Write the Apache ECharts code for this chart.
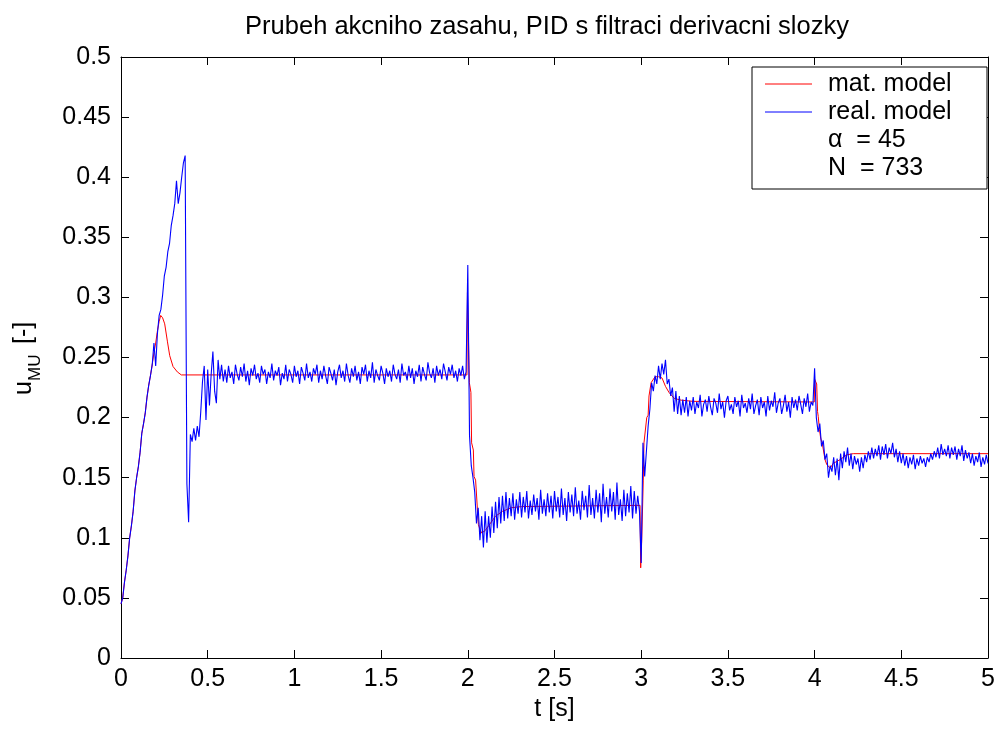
<!DOCTYPE html>
<html>
<head>
<meta charset="utf-8">
<script src="https://cdn.jsdelivr.net/npm/echarts@6/dist/echarts.min.js"></script>
<style>
html,body{margin:0;padding:0;background:#fff;}
#chart{width:1001px;height:729px;}
</style>
</head>
<body>
<div id="chart"></div>
<script>
// ---------------- DATA ----------------
const titleText = 'Prubeh akcniho zasahu, PID s filtraci derivacni slozky';
const xLabel = 't [s]';
const legendNames = ['mat. model', 'real. model'];
const legendExtra = ['\u03B1  = 45', 'N  = 733'];

// real. model sampled every 0.01 s from t = 0 to 5
const realStep = 0.01;
const realU = [
0.045,0.050,0.063,0.073,0.085,0.100,0.110,0.122,0.139,0.150,
0.159,0.171,0.187,0.195,0.204,0.217,0.227,0.235,0.244,0.262,
0.243,0.270,0.285,0.290,0.302,0.318,0.325,0.338,0.345,0.360,
0.368,0.378,0.397,0.378,0.387,0.400,0.412,0.418,0.145,0.113,
0.186,0.180,0.191,0.181,0.193,0.184,0.205,0.230,0.243,0.198,
0.240,0.210,0.236,0.255,0.222,0.212,0.248,0.232,0.244,0.230,
0.240,0.229,0.243,0.233,0.238,0.228,0.244,0.236,0.231,0.242,
0.234,0.245,0.230,0.239,0.227,0.241,0.235,0.244,0.232,0.237,
0.229,0.243,0.236,0.240,0.228,0.238,0.233,0.245,0.231,0.239,
0.235,0.242,0.227,0.237,0.232,0.244,0.230,0.240,0.236,0.229,
0.243,0.234,0.239,0.228,0.242,0.237,0.231,0.245,0.233,0.238,
0.230,0.241,0.236,0.244,0.229,0.239,0.232,0.243,0.235,0.228,
0.242,0.237,0.231,0.240,0.227,0.238,0.244,0.233,0.239,0.230,
0.245,0.235,0.229,0.241,0.234,0.243,0.231,0.238,0.228,0.242,
0.236,0.244,0.230,0.239,0.233,0.246,0.229,0.240,0.235,0.231,
0.243,0.237,0.228,0.241,0.234,0.239,0.230,0.244,0.236,0.232,
0.240,0.229,0.245,0.235,0.238,0.231,0.243,0.233,0.241,0.228,
0.239,0.234,0.244,0.230,0.242,0.236,0.231,0.246,0.237,0.233,
0.241,0.229,0.243,0.235,0.240,0.232,0.245,0.238,0.231,0.242,
0.236,0.244,0.233,0.239,0.230,0.241,0.235,0.243,0.232,0.238,
0.327,0.185,0.160,0.150,0.138,0.112,0.125,0.098,0.118,0.092,
0.122,0.096,0.118,0.100,0.126,0.104,0.130,0.108,0.134,0.112,
0.135,0.114,0.138,0.116,0.133,0.118,0.137,0.115,0.132,0.120,
0.138,0.117,0.134,0.121,0.139,0.116,0.131,0.119,0.136,0.122,
0.133,0.115,0.140,0.120,0.132,0.118,0.137,0.121,0.135,0.116,
0.139,0.122,0.134,0.117,0.141,0.119,0.133,0.114,0.138,0.121,
0.136,0.118,0.142,0.120,0.131,0.115,0.139,0.123,0.135,0.117,
0.144,0.119,0.133,0.116,0.140,0.121,0.137,0.113,0.145,0.120,
0.134,0.117,0.141,0.122,0.138,0.115,0.146,0.119,0.132,0.114,
0.140,0.118,0.137,0.121,0.143,0.116,0.139,0.120,0.135,0.122,
0.079,0.179,0.151,0.172,0.193,0.207,0.229,0.222,0.235,0.228,
0.243,0.232,0.245,0.236,0.248,0.228,0.232,0.218,0.225,0.205,
0.222,0.203,0.218,0.202,0.215,0.204,0.217,0.201,0.214,0.206,
0.217,0.203,0.213,0.208,0.219,0.201,0.211,0.215,0.205,0.218,
0.209,0.202,0.216,0.212,0.204,0.220,0.207,0.213,0.200,0.214,
0.218,0.206,0.211,0.203,0.217,0.209,0.214,0.201,0.219,0.208,
0.212,0.204,0.216,0.207,0.220,0.203,0.210,0.215,0.202,0.217,
0.208,0.213,0.201,0.218,0.206,0.214,0.209,0.221,0.204,0.212,
0.216,0.203,0.210,0.219,0.205,0.213,0.200,0.217,0.208,0.215,
0.206,0.218,0.211,0.203,0.216,0.209,0.220,0.205,0.213,0.210,
0.241,0.200,0.188,0.195,0.176,0.181,0.165,0.170,0.150,0.160,
0.155,0.167,0.152,0.166,0.148,0.170,0.158,0.172,0.163,0.175,
0.160,0.170,0.157,0.168,0.161,0.166,0.155,0.167,0.158,0.169,
0.163,0.172,0.165,0.175,0.166,0.174,0.168,0.177,0.165,0.176,
0.169,0.178,0.166,0.175,0.170,0.179,0.167,0.174,0.163,0.172,
0.162,0.170,0.160,0.168,0.158,0.167,0.161,0.169,0.157,0.166,
0.160,0.168,0.162,0.166,0.159,0.167,0.163,0.170,0.165,0.172,
0.167,0.175,0.166,0.178,0.169,0.174,0.168,0.177,0.166,0.175,
0.169,0.176,0.165,0.174,0.168,0.177,0.164,0.173,0.166,0.171,
0.162,0.170,0.160,0.168,0.163,0.171,0.159,0.167,0.161,0.169,
0.162
];

// mat. model: time / value pairs
const matT = [0,0.01,0.02,0.03,0.04,0.05,0.06,0.07,0.08,0.09,0.10,0.11,0.12,0.13,0.14,0.15,0.16,0.17,0.18,0.19,
  0.20,0.21,0.22,0.229,0.24,0.252,0.268,0.281,0.30,0.325,0.348,1.995,1.998,2.007,2.009,2.018,2.022,2.032,2.036,2.045,
  2.061,2.07,2.08,2.10,2.12,2.16,2.20,2.25,2.31,2.993,2.997,3.003,3.012,3.016,3.025,3.032,3.04,3.045,3.057,3.08,
  3.10,3.12,3.14,3.16,3.19,3.23,3.30,3.998,4.0,4.005,4.012,4.017,4.021,4.028,4.035,4.045,4.06,4.07,4.09,4.108,
  4.147,4.185,4.223,5.0];
const matU = [0.045,0.050,0.063,0.073,0.085,0.100,0.110,0.122,0.139,0.150,0.159,0.171,0.187,0.195,0.204,0.217,0.227,0.235,0.244,0.254,
  0.262,0.272,0.280,0.285,0.283,0.278,0.263,0.2515,0.2425,0.238,0.2355,0.2355,0.304,0.304,0.229,0.221,0.179,0.173,0.151,0.148,
  0.111,0.107,0.104,0.106,0.110,0.118,0.122,0.125,0.126,0.127,0.075,0.098,0.148,0.179,0.180,0.200,0.202,0.218,0.229,0.234,
  0.234,0.233,0.226,0.221,0.216,0.2145,0.2135,0.213,0.232,0.232,0.228,0.205,0.201,0.190,0.183,0.178,0.165,0.161,0.158,0.162,
  0.165,0.169,0.170,0.170];

// ---------------- CHART ----------------
const FONT = '"Liberation Sans", Arial, Helvetica, sans-serif';
const FS = 25;
const chart = echarts.init(document.getElementById('chart'), null, {renderer: 'canvas'});

const realData = realU.map((v, i) => [+(i * realStep).toFixed(2), v]);
const matData = matT.map((t, i) => [t, matU[i]]);
const fmt = v => String(+(+v).toFixed(3));

const axisCommon = {
  axisLine: {show: true, onZero: false, lineStyle: {color: '#000', width: 1}},
  axisTick: {show: true, inside: true, length: 8, lineStyle: {color: '#000', width: 1}},
  splitLine: {show: false}
};

chart.setOption({
  animation: false,
  backgroundColor: '#fff',
  grid: {left: 121, right: 13, top: 57, bottom: 71, containLabel: false},
  xAxis: [
    Object.assign({
      type: 'value', min: 0, max: 5, interval: 0.5, position: 'bottom',
      name: xLabel, nameLocation: 'middle', nameGap: 34,
      nameTextStyle: {fontFamily: FONT, fontSize: FS, color: '#000'},
      axisLabel: {fontFamily: FONT, fontSize: FS, color: '#000', margin: 9, formatter: fmt}
    }, axisCommon),
    Object.assign({
      type: 'value', min: 0, max: 5, interval: 0.5, position: 'top',
      axisLabel: {show: false}
    }, axisCommon)
  ],
  yAxis: [
    Object.assign({
      type: 'value', min: 0, max: 0.5, interval: 0.05, position: 'left',
      axisLabel: {fontFamily: FONT, fontSize: FS, color: '#000', margin: 10, formatter: fmt}
    }, axisCommon),
    Object.assign({
      type: 'value', min: 0, max: 0.5, interval: 0.05, position: 'right',
      axisLabel: {show: false}
    }, axisCommon)
  ],
  series: [
    {
      name: legendNames[0], type: 'line', data: matData,
      xAxisIndex: 0, yAxisIndex: 0,
      showSymbol: false, symbol: 'none', silent: true,
      lineStyle: {color: '#ff0000', width: 1}, z: 2
    },
    {
      name: legendNames[1], type: 'line', data: realData,
      xAxisIndex: 0, yAxisIndex: 0,
      showSymbol: false, symbol: 'none', silent: true,
      lineStyle: {color: '#0000ff', width: 1.1}, z: 3
    }
  ],
  graphic: [
    {type: 'text', x: 547, y: 27,
      style: {text: titleText, fontFamily: FONT, fontSize: 25.5, fill: '#000', align: 'center', verticalAlign: 'middle'}},
    // y axis label: u_MU [-]
    {type: 'text', x: 24, y: 395, rotation: Math.PI / 2,
      style: {text: 'u', fontFamily: FONT, fontSize: FS, fill: '#000', align: 'left', verticalAlign: 'middle'}},
    {type: 'text', x: 35, y: 381, rotation: Math.PI / 2,
      style: {text: 'MU', fontFamily: FONT, fontSize: 17, fill: '#000', align: 'left', verticalAlign: 'middle'}},
    {type: 'text', x: 24, y: 351, rotation: Math.PI / 2,
      style: {text: ' [-]', fontFamily: FONT, fontSize: FS, fill: '#000', align: 'left', verticalAlign: 'middle'}},
    // legend box
    {type: 'rect', shape: {x: 752, y: 67, width: 235, height: 122}, z: 10,
      style: {fill: '#fff', stroke: '#000', lineWidth: 1}},
    {type: 'line', shape: {x1: 765, y1: 84, x2: 812, y2: 84}, z: 11,
      style: {stroke: '#ff0000', lineWidth: 1}},
    {type: 'line', shape: {x1: 765, y1: 112, x2: 812, y2: 112}, z: 11,
      style: {stroke: '#0000ff', lineWidth: 1}},
    {type: 'text', x: 828, y: 84, z: 11,
      style: {text: legendNames[0], fontFamily: FONT, fontSize: FS, fill: '#000', verticalAlign: 'middle'}},
    {type: 'text', x: 828, y: 112, z: 11,
      style: {text: legendNames[1], fontFamily: FONT, fontSize: FS, fill: '#000', verticalAlign: 'middle'}},
    {type: 'text', x: 828, y: 140, z: 11,
      style: {text: legendExtra[0], fontFamily: FONT, fontSize: FS, fill: '#000', verticalAlign: 'middle'}},
    {type: 'text', x: 828, y: 168, z: 11,
      style: {text: legendExtra[1], fontFamily: FONT, fontSize: FS, fill: '#000', verticalAlign: 'middle'}}
  ]
});
</script>
</body>
</html>
